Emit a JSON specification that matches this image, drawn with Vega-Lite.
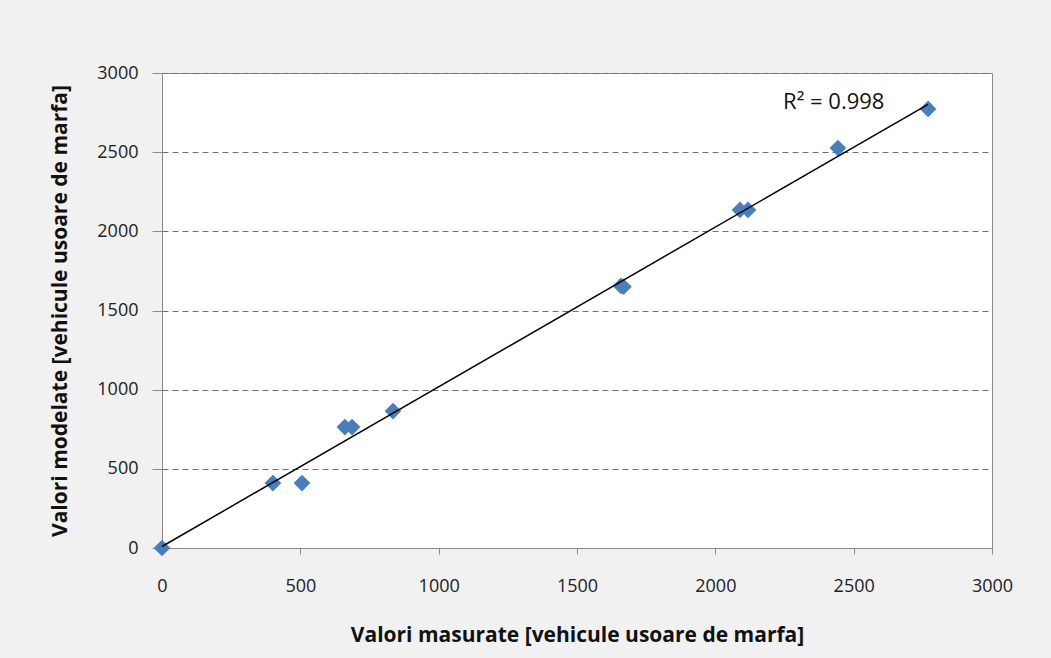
{
  "$schema": "https://vega.github.io/schema/vega-lite/v6.json",
  "autosize": "none",
  "width": 830,
  "height": 475,
  "padding": {"left": 162, "top": 73, "right": 59, "bottom": 110},
  "background": "#f1f1f1",
  "config": {
    "view": {"fill": "#ffffff", "stroke": "#8a8a8a", "strokeWidth": 1},
    "font": "Open Sans"
  },
  "datasets": {
    "pts": [
      {"masurate": 0, "modelate": 0},
      {"masurate": 401, "modelate": 410},
      {"masurate": 506, "modelate": 410},
      {"masurate": 661, "modelate": 764},
      {"masurate": 687, "modelate": 764},
      {"masurate": 835, "modelate": 865},
      {"masurate": 1659, "modelate": 1655},
      {"masurate": 1668, "modelate": 1650},
      {"masurate": 2089, "modelate": 2135},
      {"masurate": 2118, "modelate": 2135},
      {"masurate": 2443, "modelate": 2526},
      {"masurate": 2769, "modelate": 2773}
    ],
    "lbl": [
      {"masurate": 2245, "modelate": 2817, "text": "R² = 0.998"}
    ]
  },
  "layer": [
    {
      "data": {"name": "pts"},
      "mark": {"type": "point", "shape": "diamond", "filled": true, "size": 280, "color": "#4a7ebb", "opacity": 1},
      "encoding": {
        "x": {
          "field": "masurate", "type": "quantitative",
          "scale": {"domain": [0, 3000], "nice": false, "zero": false},
          "axis": {
            "title": "Valori masurate [vehicule usoare de marfa]",
            "values": [0, 500, 1000, 1500, 2000, 2500, 3000],
            "format": "d",
            "labelFlush": false,
            "grid": false,
            "domainColor": "#8a8a8a",
            "tickColor": "#8a8a8a",
            "tickSize": 6,
            "labelFontSize": 18,
            "labelColor": "#222222",
            "labelPadding": 23,
            "labelFont": "Open Sans",
            "titleFont": "Open Sans",
            "titleFontSize": 21,
            "titleFontWeight": "bold",
            "titleColor": "#111111",
            "titlePadding": 29
          }
        },
        "y": {
          "field": "modelate", "type": "quantitative",
          "scale": {"domain": [0, 3000], "nice": false, "zero": false},
          "axis": {
            "title": "Valori modelate [vehicule usoare de marfa]",
            "values": [0, 500, 1000, 1500, 2000, 2500, 3000],
            "format": "d",
            "labelFlush": false,
            "grid": true,
            "gridDash": [6, 4],
            "gridColor": "#707070",
            "gridWidth": 1,
            "domainColor": "#8a8a8a",
            "tickColor": "#8a8a8a",
            "tickSize": 10,
            "labelFontSize": 18,
            "labelColor": "#222222",
            "labelPadding": 14,
            "labelFont": "Open Sans",
            "titleFont": "Open Sans",
            "titleFontSize": 21,
            "titleFontWeight": "bold",
            "titleColor": "#111111",
            "titlePadding": 26
          }
        }
      }
    },
    {
      "data": {"name": "pts"},
      "transform": [{"regression": "modelate", "on": "masurate", "method": "linear"}],
      "mark": {"type": "line", "color": "#000000", "strokeWidth": 1.5},
      "encoding": {
        "x": {"field": "masurate", "type": "quantitative"},
        "y": {"field": "modelate", "type": "quantitative"}
      }
    },
    {
      "data": {"name": "lbl"},
      "mark": {"type": "text", "align": "left", "baseline": "middle", "fontSize": 22, "color": "#111111", "font": "Open Sans"},
      "encoding": {
        "x": {"field": "masurate", "type": "quantitative"},
        "y": {"field": "modelate", "type": "quantitative"},
        "text": {"field": "text"}
      }
    }
  ]
}
